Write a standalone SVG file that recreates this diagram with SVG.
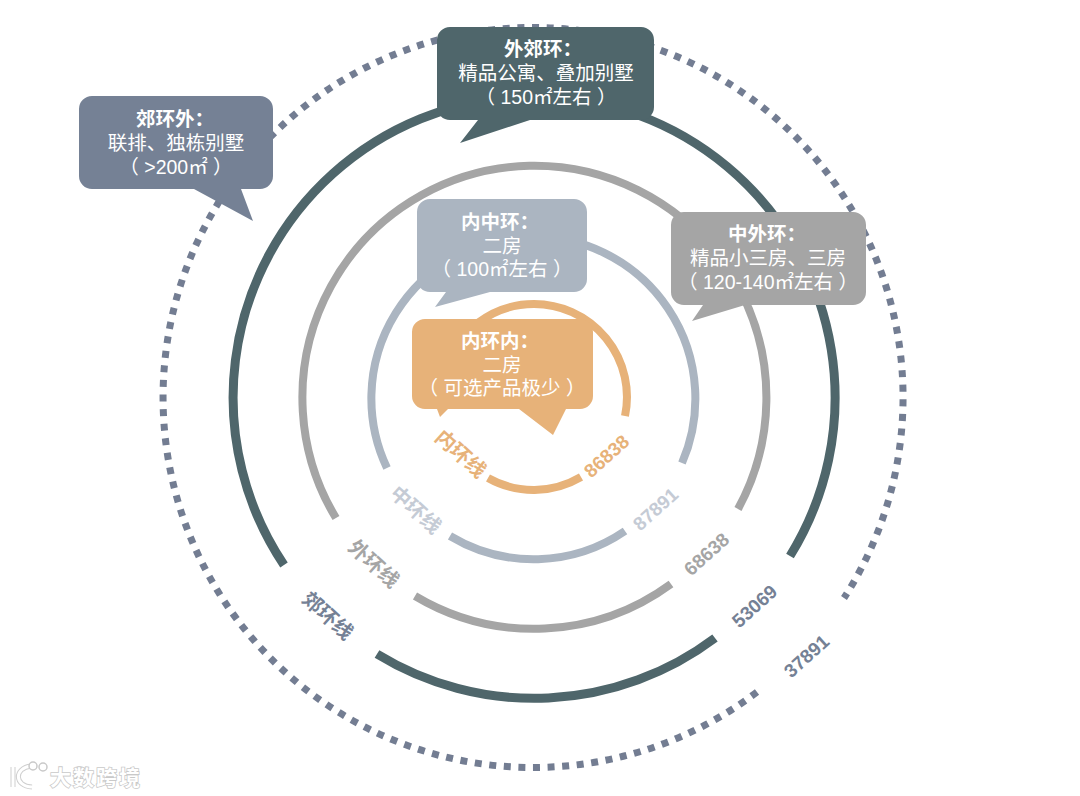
<svg xmlns="http://www.w3.org/2000/svg" width="1080" height="796" viewBox="0 0 1080 796">
<style>
text{font-family:"Noto Sans CJK SC","Liberation Sans",sans-serif;text-anchor:middle}
.t{font-size:19.5px;font-weight:700;fill:#fff}
.b{font-size:19.5px;fill:#fff;font-family:"Liberation Sans","Noto Sans CJK SC",sans-serif}
.r{fill:none}
.l{font-size:20px;font-weight:700}
.n{font-size:19px;font-weight:700;font-family:"Liberation Sans",sans-serif}
.wm{font-size:21px;font-weight:700;fill:#fff;stroke:#c9c9c9;stroke-width:1.6;paint-order:stroke;text-anchor:start}
</style>
<rect width="1080" height="796" fill="#fff"/>
<g id="connectors" class="r">
<path d="M757 692A370 370 0 1 1 844 598" stroke="#737d92" stroke-width="7" stroke-dasharray="7 7.6"/>
<path d="M284 565A301 301 0 1 1 790 556" stroke="#4f666b" stroke-width="9"/>
<path d="M377 654A301 301 0 0 0 715 638" stroke="#4f666b" stroke-width="9"/>
<path d="M336 518A232 232 0 1 1 738 509" stroke="#a5a5a5" stroke-width="8"/>
<path d="M415 596A232 232 0 0 0 671 584" stroke="#a5a5a5" stroke-width="8"/>
<path d="M387 468A162 162 0 1 1 682 463" stroke="#abb5c1" stroke-width="8"/>
<path d="M450 536A162 162 0 0 0 625 531" stroke="#abb5c1" stroke-width="8"/>
<path d="M625 416A93 93 0 0 0 534 304A93 93 0 0 0 444.4 372" stroke="#e7b279" stroke-width="8"/>
<path d="M488 478A93 93 0 0 0 581 477" stroke="#e7b279" stroke-width="8"/>
</g>
<g id="node-suburb-out">
<path d="M92 96H260a13 13 0 0 1 13 13V176a13 13 0 0 1-13 13H241L253 221 194 189H92a13 13 0 0 1-13-13V109a13 13 0 0 1 13-13Z" fill="#758195"/>
<text class="t" x="175" y="126">郊环外：</text>
<text class="b" x="176" y="150">联排、独栋别墅</text>
<text class="b" x="176" y="174">（ &gt;200㎡ ）</text>
</g>
<g id="node-outer-suburb">
<path d="M450 27H641a13 13 0 0 1 13 13V107a13 13 0 0 1-13 13H530L460 143 478 120H450a13 13 0 0 1-13-13V40a13 13 0 0 1 13-13Z" fill="#4f666b"/>
<text class="t" x="543" y="56">外郊环：</text>
<text class="b" x="546" y="80">精品公寓、叠加别墅</text>
<text class="b" x="546" y="104">（ 150㎡左右 ）</text>
</g>
<g id="node-mid-outer">
<path d="M684 212H853a13 13 0 0 1 13 13V292a13 13 0 0 1-13 13H745L692 321 703 305H684a13 13 0 0 1-13-13V225a13 13 0 0 1 13-13Z" fill="#a5a5a5"/>
<text class="t" x="767" y="241">中外环：</text>
<text class="b" x="768" y="265">精品小三房、三房</text>
<text class="b" x="768" y="289">（ 120-140㎡左右 ）</text>
</g>
<g id="node-inner-mid">
<path d="M430 199H574a13 13 0 0 1 13 13V279a13 13 0 0 1-13 13H490L435 307 446 292H430a13 13 0 0 1-13-13V212a13 13 0 0 1 13-13Z" fill="#abb5c1"/>
<text class="t" x="500" y="229">内中环：</text>
<text class="b" x="502" y="253">二房</text>
<text class="b" x="502" y="276">（ 100㎡左右 ）</text>
</g>
<g id="node-inner">
<path d="M425 319H580a13 13 0 0 1 13 13V396a13 13 0 0 1-13 13H566L553 435 519 409H448L440 417 437 409H425a13 13 0 0 1-13-13V332a13 13 0 0 1 13-13Z" fill="#e7b279"/>
<text class="t" x="500" y="348">内环内：</text>
<text class="b" x="502" y="372">二房</text>
<text class="b" x="502" y="395">（ 可选产品极少 ）</text>
</g>
<g id="ring-labels">
<text class="l" fill="#e7b279" transform="translate(456 459) rotate(42)">内环线</text>
<text class="l" fill="#c5cbd5" transform="translate(411 515) rotate(42)">中环线</text>
<text class="l" fill="#a5a5a5" transform="translate(369 569) rotate(42)">外环线</text>
<text class="l" fill="#758195" transform="translate(323 621) rotate(42)">郊环线</text>
<text class="n" fill="#e7b279" transform="translate(611 461) rotate(-42)">86838</text>
<text class="n" fill="#c5cbd5" transform="translate(660 514) rotate(-42)">87891</text>
<text class="n" fill="#a5a5a5" transform="translate(711 559) rotate(-42)">68638</text>
<text class="n" fill="#758195" transform="translate(759 611) rotate(-42)">53069</text>
<text class="n" fill="#758195" transform="translate(811 661) rotate(-42)">37891</text>
</g>
<g id="watermark">
<path d="M13 767V787M31 766C14 768 14 786 32 787" fill="none" stroke="#cfcfcf" stroke-width="5"/>
<path d="M13 767V787M31 766C14 768 14 786 32 787" fill="none" stroke="#fff" stroke-width="3"/>
<circle cx="33" cy="766" r="4" fill="#fff" stroke="#c9c9c9" stroke-width="1.5"/>
<circle cx="43" cy="767" r="4" fill="#fff" stroke="#c9c9c9" stroke-width="1.5"/>
<text class="wm" x="50" y="785" textLength="90">大数跨境</text>
</g>
</svg>
